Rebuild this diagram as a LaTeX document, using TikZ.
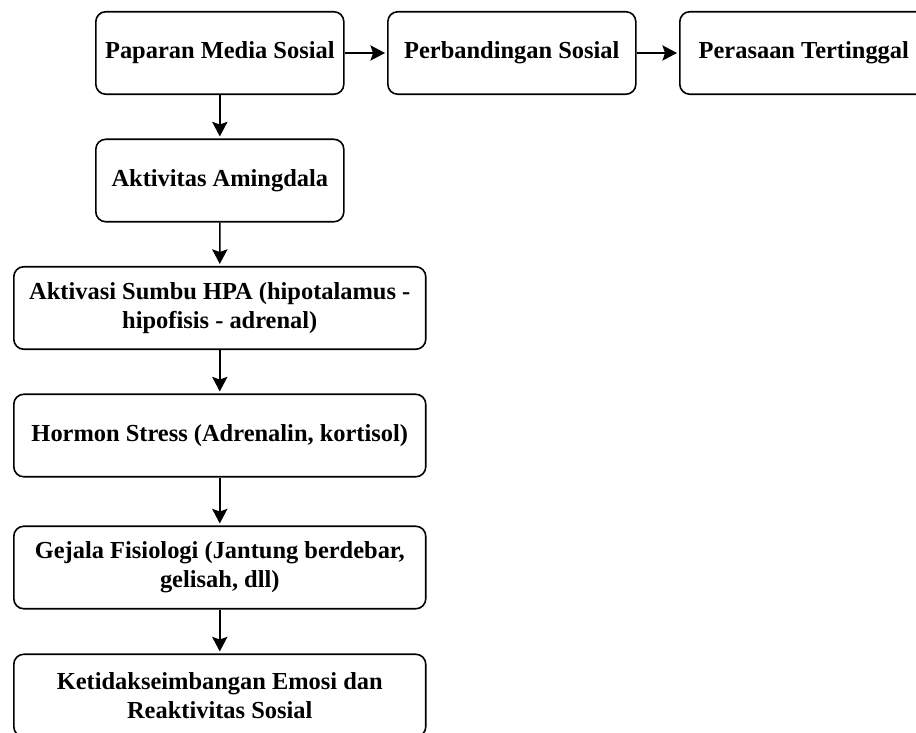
\documentclass[tikz,border=0pt]{standalone}
\usepackage{fontspec}
\setmainfont{Liberation Serif}
\usetikzlibrary{arrows.meta}

\begin{document}
\begin{tikzpicture}[
	kotak/.style={rectangle,
		rounded corners = 7.5pt,
		draw = black,
		line width = 1.2pt,
		text = black,
		anchor = west,
		fill = white,
		align = center,
		font = \bfseries\fontsize{18.4}{21.8}\selectfont,
		minimum width = 6.562cm,
		minimum height = 2.183cm},
	kotaklebar/.style={kotak,
		minimum width = 10.9cm},
	panah/.style={-{Stealth[length = 11pt, width = 11.5pt, inset = 2pt]},
		line width = 1.2pt,
		shorten > = 1.5pt}
	]
	
	\useasboundingbox (0cm,0cm) rectangle (24.236cm,-19.394cm);
	
	\node[kotak] (paparan) at (2.514cm,-1.402cm) {Paparan Media Sosial};
	
	\node[kotak] (perbandingan) at (10.24cm,-1.402cm) {Perbandingan Sosial};
	
	\node[kotak] (perasaan) at (17.965cm,-1.402cm) {Perasaan Tertinggal};
	
	\node[kotak] (amingdala) at (2.514cm,-4.776cm) {Aktivitas Amingdala};
	
	\node[kotaklebar] (hpa) at (0.344cm,-8.149cm) {Aktivasi Sumbu HPA (hipotalamus -\\ hipofisis - adrenal)};
	
	\node[kotaklebar] (hormon) at (0.344cm,-11.523cm) {Hormon Stress (Adrenalin, kortisol)};
	
	\node[kotaklebar] (gejala) at (0.344cm,-15.015cm) {Gejala Fisiologi (Jantung berdebar,\\ gelisah, dll)};
	
	\node[kotaklebar] (emosi) at (0.344cm,-18.402cm) {Ketidakseimbangan Emosi dan\\ Reaktivitas Sosial};
	
	\draw[panah] (paparan) to (perbandingan);
	\draw[panah] (perbandingan) to (perasaan);
	
	\draw[panah] (paparan) to (amingdala);
	\draw[panah] (amingdala) to (hpa);
	\draw[panah] (hpa) to (hormon);
	\draw[panah] (hormon) to (gejala);
	\draw[panah] (gejala) to (emosi);
	
\end{tikzpicture}
\end{document}
